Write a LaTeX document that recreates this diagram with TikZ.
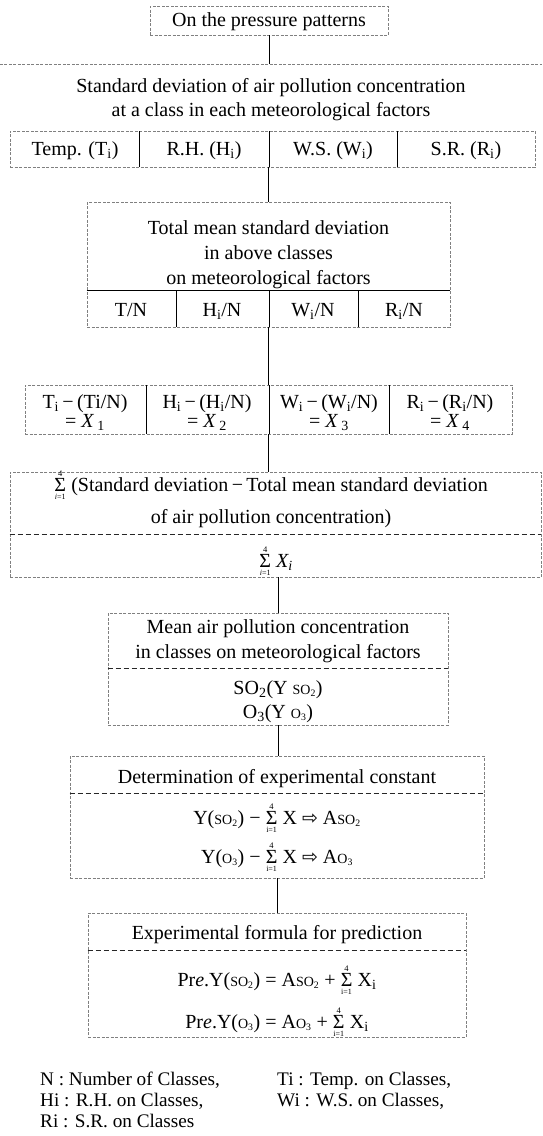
\documentclass[tikz,border=0pt]{standalone}
\usepackage{fontspec}
\setmainfont{Liberation Serif}
\newfontfamily\arrowfont{DejaVu Sans}
\newcommand{\SumL}[1]{\leavevmode\rlap{\makebox[12pt]{\raisebox{14.8pt}{\fontsize{8.5}{8.5}\selectfont 4}}}\rlap{\makebox[12pt]{\raisebox{-8.8pt}{\fontsize{8}{8}\selectfont #1}}}\makebox[12pt]{Σ}}
\newcommand{\smc}[1]{{\fontsize{14}{14}\selectfont #1}}
\newcommand{\sbs}[1]{\textsubscript{#1}}
\newcommand{\rarr}{{\arrowfont\fontsize{19}{19}\selectfont ⇨}}
\tikzset{
  boxedge/.style={draw=black!50, line width=0.55pt, dash pattern=on 3pt off 1.5pt},
  divline/.style={draw=black!85, line width=0.6pt, dash pattern=on 5pt off 3pt},
  solidline/.style={draw=black, line width=0.7pt},
  conn/.style={draw=black, line width=0.7pt},
  txt/.style={font=\fontsize{20}{24}\selectfont, inner sep=0pt, anchor=base},
  leg/.style={font=\fontsize{19.2}{23}\selectfont, inner sep=0pt, anchor=base west},
  frame/.style={rectangle, inner sep=0pt, boxedge},
  hidden/.style={rectangle, inner sep=0pt}
}
\begin{document}
\begin{tikzpicture}[x=1pt,y=-1pt]
\useasboundingbox (0,0) rectangle (542,1136);

% ---------- box 1
\node[frame, minimum width=238pt, minimum height=29pt] (b1) at (269,20.5) {};
\node[txt] (t1) at (269,26) {On the pressure patterns};

% ---------- box 2
\node[hidden, minimum width=542pt, minimum height=103pt] (b2) at (271,115.5) {};
\draw[boxedge] (b2.north west) -- (b2.north east);
\node[txt] (t2a) at (271,92) {Standard deviation of air pollution concentration};
\node[txt] (t2b) at (271,116) {at a class in each meteorological factors};
\node[frame, minimum width=525pt, minimum height=36pt] (b2r) at (272.5,149) {};
\draw[solidline] (139,131) -- (139,167);
\draw[solidline] (269,131) -- (269,167);
\draw[solidline] (397,131) -- (397,167);
\node[txt] (c1) at (75,155) {Temp. (T\sbs{i})};
\node[txt] (c2) at (204,155) {R.H. (H\sbs{i})};
\node[txt] (c3) at (333,155) {W.S. (W\sbs{i})};
\node[txt] (c4) at (466,155) {S.R. (R\sbs{i})};
\draw[conn] (b1.south) -- (b1.south |- b2.north);

% ---------- box 3
\node[frame, minimum width=363pt, minimum height=125pt] (b3) at (268.5,264.5) {};
\draw[conn] (b3.north) -- (b3.north |- b2r.south);
\node[txt] (t3a) at (268.5,234) {Total mean standard deviation};
\node[txt] (t3b) at (268.5,259) {in above classes};
\node[txt] (t3c) at (268.5,284) {on meteorological factors};
\draw[solidline] (b3.west |- 0,290) -- (b3.east |- 0,290);
\draw[solidline] (176,290) -- (176,327);
\draw[solidline] (269,290) -- (269,327);
\draw[solidline] (358,290) -- (358,327);
\node[txt] (d1) at (131,316) {T/N};
\node[txt] (d2) at (222,316) {H\sbs{i}/N};
\node[txt] (d3) at (313,316) {W\sbs{i}/N};
\node[txt] (d4) at (404,316) {R\sbs{i}/N};

% ---------- box 4
\node[frame, minimum width=487pt, minimum height=49pt] (b4) at (268.5,409.5) {};
\draw[conn] (b3.south) -- (b4.north);
\draw[solidline] (146,385) -- (146,434);
\draw[solidline] (269,385) -- (269,434);
\draw[solidline] (389,385) -- (389,434);
\node[txt] (e1) at (85,408) {T\sbs{i}\,−\,(Ti/N)};
\node[txt] (e1b) at (85,427) {= \textit{X}\,\sbs{1}};
\node[txt] (e2) at (207,408) {H\sbs{i}\,−\,(H\sbs{i}/N)};
\node[txt] (e2b) at (207,427) {= \textit{X}\,\sbs{2}};
\node[txt] (e3) at (329,408) {W\sbs{i}\,−\,(W\sbs{i}/N)};
\node[txt] (e3b) at (329,427) {= \textit{X}\,\sbs{3}};
\node[txt] (e4) at (450,408) {R\sbs{i}\,−\,(R\sbs{i}/N)};
\node[txt] (e4b) at (450,427) {= \textit{X}\,\sbs{4}};

% ---------- box 5
\node[frame, minimum width=531pt, minimum height=105pt] (b5) at (275.5,524.5) {};
\draw[conn] (b4.south) -- (b4.south |- b5.north);
\node[txt] (f1) at (271,491) {\SumL{\textit{i}=1} (Standard deviation\,−\,Total mean standard deviation};
\node[txt] (f2) at (271,523) {of air pollution concentration)};
\draw[divline] (b5.west |- 0,534) -- (b5.east |- 0,534);
\node[txt] (f3) at (276,567) {\SumL{\textit{i}=1} \textit{X\sbs{i}}};

% ---------- box 6
\node[frame, minimum width=340pt, minimum height=112pt] (b6) at (278,669) {};
\draw[conn] (b6.north) -- (b6.north |- b5.south);
\node[txt] (g1) at (278,633) {Mean air pollution concentration};
\node[txt] (g2) at (278,658) {in classes on meteorological factors};
\draw[divline] (b6.west |- 0,668) -- (b6.east |- 0,668);
\node[txt] (g3) at (278,694) {SO\sbs{2}(Y \smc{SO\sbs{2}})};
\node[txt] (g4) at (278,718) {O\sbs{3}(Y \smc{O\sbs{3}})};

% ---------- box 7
\node[frame, minimum width=414pt, minimum height=122pt] (b7) at (277,817) {};
\draw[conn] (b6.south) -- (b6.south |- b7.north);
\node[txt] (h1) at (277,783) {Determination of experimental constant};
\draw[divline] (b7.west |- 0,793) -- (b7.east |- 0,793);
\node[txt] (h2) at (277,824) {Y(\smc{SO\sbs{2}}) − \SumL{i=1} X \rarr{} A\smc{SO\sbs{2}}};
\node[txt] (h3) at (277,863) {Y(\smc{O\sbs{3}}) − \SumL{i=1} X \rarr{} A\smc{O\sbs{3}}};

% ---------- box 8
\node[frame, minimum width=378pt, minimum height=124pt] (b8) at (277,975) {};
\draw[conn] (b7.south) -- (b8.north);
\node[txt] (k1) at (277,939) {Experimental formula for prediction};
\draw[divline] (b8.west |- 0,950) -- (b8.east |- 0,950);
\node[txt] (k2) at (277,986) {Pr\textit{e}.Y(\smc{SO\sbs{2}}) = A\smc{SO\sbs{2}} + \SumL{i=1} X\sbs{i}};
\node[txt] (k3) at (277,1028) {Pr\textit{e}.Y(\smc{O\sbs{3}}) = A\smc{O\sbs{3}} + \SumL{i=1} X\sbs{i}};

% ---------- legend
\node[leg] (l1) at (40,1085) {N : Number of Classes,};
\node[leg] (l2) at (277,1085) {Ti : Temp. on Classes,};
\node[leg] (l3) at (40,1106) {Hi : R.H. on Classes,};
\node[leg] (l4) at (277,1106) {Wi : W.S. on Classes,};
\node[leg] (l5) at (40,1127) {Ri : S.R. on Classes};
\end{tikzpicture}
\end{document}
